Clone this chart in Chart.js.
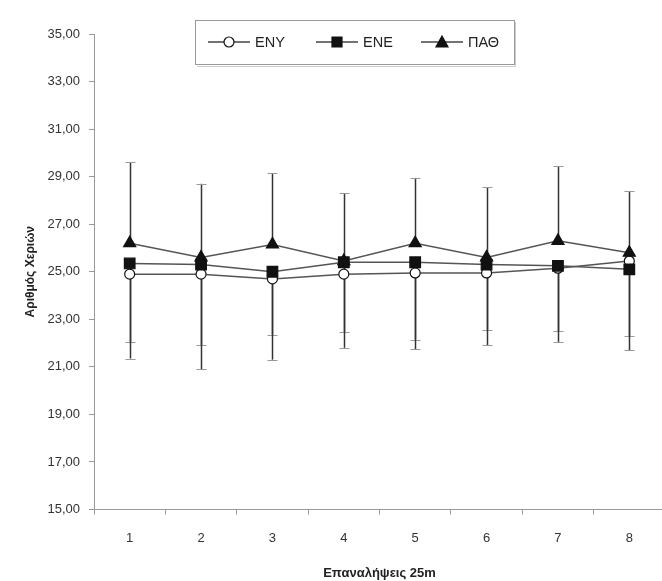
<!DOCTYPE html>
<html lang="el">
<head>
  <meta charset="UTF-8" />
  <title>Αριθμός χεριών ανά επανάληψη 25m</title>
  <script src="https://cdn.jsdelivr.net/npm/chart.js"></script>
  <style>
    html, body {
      margin: 0;
      padding: 0;
      background: #fff;
      overflow: hidden;
    }
    #wrap {
      width: 665px;
      height: 581px;
    }
  </style>
</head>
<body>

<div id="wrap"><canvas id="handsChart" width="665" height="581"></canvas></div>

<script>
  // Repetitions of 25m and the y ticks
  const reps = ['1', '2', '3', '4', '5', '6', '7', '8'];
  const yTicks = [15, 17, 19, 21, 23, 25, 27, 29, 31, 33, 35];

  // Mean number of strokes per group
  const enyMean = [24.9, 24.9, 24.7, 24.9, 24.95, 24.95, 25.15, 25.45];
  const eneMean = [25.35, 25.3, 25.0, 25.4, 25.4, 25.3, 25.25, 25.1];
  const pathMean = [26.2, 25.6, 26.15, 25.45, 26.2, 25.6, 26.3, 25.8];

  // Standard deviations (ΕΝΥ, ΕΝΕ drawn below the mean, ΠΑΘ above)
  const enySd = [3.55, 4.0, 3.4, 3.1, 3.2, 3.05, 3.1, 3.75];
  const eneSd = [3.3, 3.4, 2.65, 2.95, 3.25, 2.75, 2.75, 2.8];
  const pathSd = [3.4, 3.1, 3.0, 2.85, 2.75, 2.95, 3.15, 2.6];

  const fmt = v => v.toFixed(2).replace('.', ',');

  // Vertical error bars with small caps, drawn under the markers
  const errorBars = {
    id: 'errorBars',
    beforeDatasetsDraw(chart) {
      const { ctx, scales: { y } } = chart;
      ctx.save();
      chart.data.datasets.forEach((ds, i) => {
        const meta = chart.getDatasetMeta(i);
        ds.sd.forEach((sd, j) => {
          const px = Math.round(meta.data[j].x) + 0.5;
          const from = y.getPixelForValue(ds.data[j]);
          const to = y.getPixelForValue(ds.data[j] + ds.dir * sd);
          ctx.strokeStyle = '#333';
          ctx.lineWidth = 1.5;
          ctx.beginPath();
          ctx.moveTo(px, from);
          ctx.lineTo(px, to);
          ctx.stroke();
          ctx.strokeStyle = '#999';
          ctx.lineWidth = 1;
          ctx.beginPath();
          ctx.moveTo(px - 5, Math.round(to) + 0.5);
          ctx.lineTo(px + 5, Math.round(to) + 0.5);
          ctx.stroke();
        });
      });
      ctx.restore();
    }
  };

  function marker(ctx, style, x, y) {
    ctx.beginPath();
    if (style === 'circle') {
      ctx.arc(x, y, 5, 0, Math.PI * 2);
      ctx.fillStyle = '#fff';
    } else if (style === 'rect') {
      ctx.rect(x - 5, y - 5, 10, 10);
      ctx.fillStyle = '#111';
    } else {
      ctx.moveTo(x, y - 6);
      ctx.lineTo(x + 6, y + 5);
      ctx.lineTo(x - 6, y + 5);
      ctx.closePath();
      ctx.fillStyle = '#111';
    }
    ctx.fill();
    ctx.lineWidth = 1.2;
    ctx.strokeStyle = '#111';
    ctx.stroke();
  }

  // Boxed legend sitting over the top of the plot
  const boxLegend = {
    id: 'boxLegend',
    afterDraw(chart) {
      const ctx = chart.ctx;
      const items = [
        { ds: chart.data.datasets[1], x: 208 },
        { ds: chart.data.datasets[0], x: 316 },
        { ds: chart.data.datasets[2], x: 421 }
      ];
      ctx.save();
      ctx.fillStyle = '#fff';
      ctx.fillRect(195, 20, 319, 44);
      ctx.strokeStyle = '#999';
      ctx.lineWidth = 1;
      ctx.strokeRect(195.5, 20.5, 319, 44);
      ctx.strokeStyle = '#ccc';
      ctx.beginPath();
      ctx.moveTo(197, 66.5);
      ctx.lineTo(515.5, 66.5);
      ctx.lineTo(515.5, 22);
      ctx.stroke();
      const ly = 42;
      items.forEach(it => {
        ctx.strokeStyle = '#444';
        ctx.lineWidth = 1.5;
        ctx.beginPath();
        ctx.moveTo(it.x, ly);
        ctx.lineTo(it.x + 42, ly);
        ctx.stroke();
        marker(ctx, it.ds.pointStyle, it.x + 21, ly);
        ctx.fillStyle = '#222';
        ctx.font = '14.5px "Liberation Sans", Arial, sans-serif';
        ctx.textBaseline = 'middle';
        ctx.fillText(it.ds.label, it.x + 47, ly + 1);
      });
      ctx.restore();
    }
  };

  const lineStyle = {
    borderColor: '#555',
    borderWidth: 1.5,
    pointBorderColor: '#111',
    pointBorderWidth: 1.2,
    tension: 0,
    fill: false
  };

  new Chart(document.getElementById('handsChart'), {
    type: 'line',
    data: {
      labels: reps,
      datasets: [
        {
          ...lineStyle,
          label: 'ΕΝΕ',
          data: eneMean,
          sd: eneSd,
          dir: -1,
          order: 0,
          pointStyle: 'rect',
          pointRadius: 7.5,
          pointBackgroundColor: '#111'
        },
        {
          ...lineStyle,
          label: 'ΕΝΥ',
          data: enyMean,
          sd: enySd,
          dir: -1,
          order: 2,
          pointStyle: 'circle',
          pointRadius: 5,
          pointBackgroundColor: '#fff'
        },
        {
          ...lineStyle,
          label: 'ΠΑΘ',
          data: pathMean,
          sd: pathSd,
          dir: 1,
          order: 1,
          pointStyle: 'triangle',
          pointRadius: 7,
          pointBackgroundColor: '#111'
        }
      ]
    },
    options: {
      responsive: false,
      animation: false,
      events: [],
      layout: { autoPadding: false, padding: { top: 34, right: 0, bottom: 0, left: 0 } },
      plugins: {
        legend: { display: false },
        tooltip: { enabled: false }
      },
      scales: {
        x: {
          offset: true,
          grid: { offset: true, drawOnChartArea: false, tickLength: 5, color: '#999' },
          border: { color: '#999' },
          ticks: {
            color: '#333',
            padding: 16,
            font: { family: '"Liberation Sans", Arial, sans-serif', size: 13 }
          },
          title: {
            display: true,
            text: 'Επαναλήψεις 25m',
            color: '#222',
            padding: { top: 0, bottom: 0 },
            font: { family: '"Liberation Sans", Arial, sans-serif', size: 13, weight: 'bold' }
          },
          afterFit: s => {
            s.height = 71.5;
            s.paddingLeft = 0;
            s.paddingRight = 0;
          }
        },
        y: {
          min: 15,
          max: 35,
          afterBuildTicks: s => { s.ticks = yTicks.map(v => ({ value: v })); },
          grid: { drawOnChartArea: false, tickLength: 5, color: '#999' },
          border: { color: '#999' },
          ticks: {
            color: '#333',
            padding: 9,
            callback: v => fmt(v),
            font: { family: '"Liberation Sans", Arial, sans-serif', size: 13 }
          },
          title: {
            display: true,
            text: 'Αριθμός Χεριών',
            color: '#222',
            padding: { top: 23, bottom: 0 },
            font: { family: '"Liberation Sans", Arial, sans-serif', size: 12, weight: 'bold' }
          },
          afterFit: s => { s.width = 94; }
        }
      }
    },
    plugins: [errorBars, boxLegend]
  });
</script>
</body>
</html>
